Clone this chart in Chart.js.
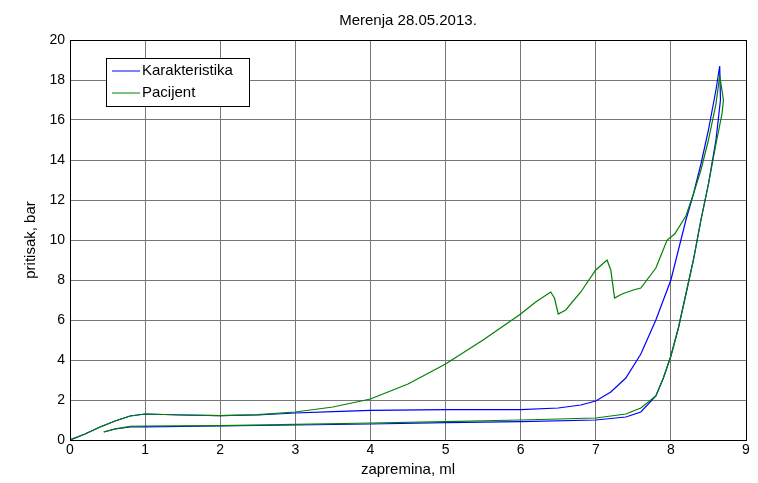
<!DOCTYPE html>
<html><head><meta charset="utf-8">
<script src="https://cdn.jsdelivr.net/npm/chart.js@4/dist/chart.umd.min.js"></script>
<style>html,body{margin:0;background:#fff}#wrap{width:758px;height:483px}</style>
</head><body><div id="wrap"><canvas id="c"></canvas></div>
<script>
// ── Data ─────────────────────────────────────────────────
const karX = [0,0.2,0.4,0.6,0.8,1,1.5,2,2.5,3,3.5,4,5,6,6.5,6.8,7,7.2,7.4,7.6,7.8,8,8.1,8.2,8.3,8.4,8.5,8.6,8.65,8.66,8.6,8.5,8.4,8.3,8.2,8.1,8,7.9,7.8,7.6,7.4,7,6,5,4,3,2,1,0.8,0.6,0.45];
const karY = [0,0.3,0.65,0.95,1.2,1.3,1.25,1.22,1.25,1.35,1.42,1.48,1.52,1.52,1.6,1.75,1.95,2.4,3.1,4.3,6,8,9.5,11,12.3,13.8,15.5,17.5,18.7,17,15,12.8,11,9,7.3,5.6,4.2,3.1,2.2,1.4,1.15,1.0,0.92,0.87,0.8,0.75,0.7,0.66,0.65,0.55,0.4];
const pacX = [0,0.2,0.4,0.6,0.8,1,1.5,2,2.5,3,3.5,4,4.5,5,5.5,6,6.2,6.4,6.45,6.5,6.6,6.8,7,7.15,7.2,7.25,7.35,7.5,7.6,7.8,7.95,8.05,8.2,8.3,8.4,8.5,8.6,8.65,8.7,8.68,8.6,8.5,8.4,8.3,8.2,8.1,8,7.9,7.8,7.6,7.4,7,6,5,4,3,2,1,0.8,0.6,0.45];
const pacY = [0,0.3,0.65,0.95,1.2,1.3,1.25,1.22,1.27,1.4,1.65,2.05,2.8,3.8,5,6.3,6.9,7.4,7.1,6.3,6.5,7.4,8.5,9,8.5,7.1,7.3,7.5,7.6,8.6,10,10.3,11.2,12.3,13.5,15,16.8,18.2,17,16.3,14.8,12.8,11,9,7.3,5.6,4.2,3.1,2.2,1.6,1.3,1.1,1.0,0.92,0.85,0.78,0.72,0.7,0.68,0.56,0.4];
const xTicks = [0,1,2,3,4,5,6,7,8,9];
const yTicks = [0,2,4,6,8,10,12,14,16,18,20];
const toPts = (xs, ys) => xs.map((x, i) => ({ x, y: ys[i] }));

const frame = {
  id: "frame",
  afterDraw(chart) {
    const { ctx, chartArea: a } = chart;
    ctx.save();
    ctx.strokeStyle = "#000"; ctx.lineWidth = 1;
    ctx.strokeRect(a.left + 0.5, a.top + 0.5, a.right - a.left, a.bottom - a.top);
    ctx.font = "15px 'Liberation Sans', Arial";
    ctx.fillStyle = "#000"; ctx.textAlign = "center"; ctx.textBaseline = "alphabetic";
    ctx.fillText("Merenja 28.05.2013.", (a.left + a.right) / 2, 25);
    // legend box
    const lx = a.left + 36, ly = a.top + 18, lw = 143, lh = 48;
    ctx.fillStyle = "#fff"; ctx.fillRect(lx, ly, lw, lh);
    ctx.strokeRect(lx + 0.5, ly + 0.5, lw, lh);
    ctx.textAlign = "left"; ctx.textBaseline = "middle"; ctx.fillStyle = "#000";
    [["#0000ff", "Karakteristika"], ["#008000", "Pacijent"]].forEach(([c, t], i) => {
      const yy = ly + 13 + i * 22;
      ctx.strokeStyle = c; ctx.beginPath(); ctx.moveTo(lx + 6, yy); ctx.lineTo(lx + 34, yy); ctx.stroke();
      ctx.fillText(t, lx + 36, yy);
    });
    ctx.restore();
  }
};

new Chart(document.getElementById("c"), {
  type: "scatter",
  data: {
    datasets: [
      { label: "Pacijent", data: toPts(pacX, pacY), borderColor: "#008000", showLine: true, pointRadius: 0, borderWidth: 1.2, tension: 0 },
      { label: "Karakteristika", data: toPts(karX, karY), borderColor: "#0000ff", showLine: true, pointRadius: 0, borderWidth: 1.2, tension: 0 },
    ],
  },
  options: {
    responsive: true, maintainAspectRatio: false, animation: false,
    layout: { padding: { top: 40, right: 12, left: 22, bottom: 0 } },
    plugins: { legend: { display: false }, tooltip: { enabled: false } },
    scales: {
      x: {
        type: "linear", min: 0, max: 9,
        afterBuildTicks: (s) => { s.ticks = xTicks.map((v) => ({ value: v })); },
        afterFit: (s) => { s.height = 43; },
        grid: { color: "#777", drawTicks: false },
        border: { display: false },
        ticks: { color: "#000", font: { size: 14, family: "'Liberation Sans', Arial" }, padding: 2, maxRotation: 0 },
        title: { display: true, text: "zapremina, ml", color: "#000", font: { size: 15, family: "'Liberation Sans', Arial" }, padding: { top: -2 } },
      },
      y: {
        min: 0, max: 20,
        afterBuildTicks: (s) => { s.ticks = yTicks.map((v) => ({ value: v })); },
        afterFit: (s) => { s.width = 48; },
        grid: { color: "#777", drawTicks: false },
        border: { display: false },
        ticks: { color: "#000", font: { size: 14, family: "'Liberation Sans', Arial" }, padding: 5 },
        title: { display: true, text: "pritisak, bar", color: "#000", font: { size: 15, family: "'Liberation Sans', Arial" }, padding: 0 },
      },
    },
  },
  plugins: [frame],
});
</script></body></html>
